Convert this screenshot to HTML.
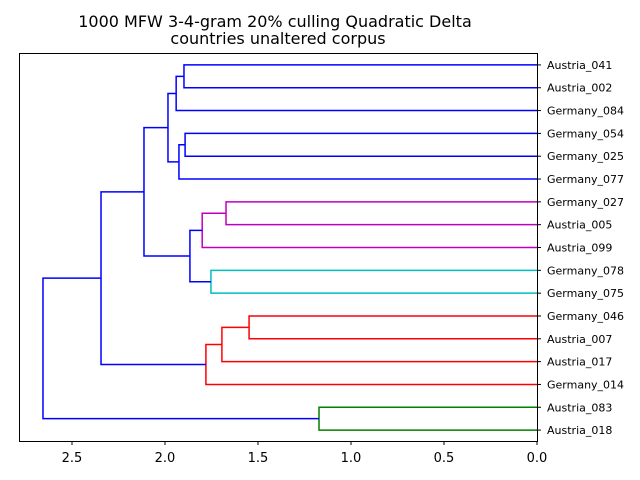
<!DOCTYPE html>
<html><head><meta charset="utf-8"><style>
body{margin:0;background:#fff;}
svg{display:block;font-family:"DejaVu Sans","Liberation Sans",sans-serif;}
</style></head><body>
<svg id="chart" width="640" height="480">
<text x="275" y="27" font-size="16" text-anchor="middle">1000 MFW 3-4-gram 20% culling Quadratic Delta</text>
<text x="278" y="44" font-size="16" text-anchor="middle">countries unaltered corpus</text>
<g id="links"></g>
<rect x="19.5" y="53.5" width="518" height="388" fill="none" stroke="#000" stroke-width="1"/>
<g id="xticks"></g>
<g id="leaves"></g>
</svg>
<script>
const leafLabels=["Austria_041","Austria_002","Germany_084","Germany_054","Germany_025","Germany_077","Germany_027","Austria_005","Austria_099","Germany_078","Germany_075","Germany_046","Austria_007","Austria_017","Germany_014","Austria_083","Austria_018"];
const mergeLeft=[0,17,3,19,18,6,22,9,23,21,11,27,28,26,15,30];
const mergeRight=[1,2,4,5,20,7,8,10,24,25,12,13,14,29,16,31];
const mergeHeights=[1.898,1.94,1.892,1.925,1.984,1.672,1.80,1.753,1.866,2.113,1.548,1.694,1.78,2.344,1.172,2.656];
const mergeColors=["#0000ff","#0000ff","#0000ff","#0000ff","#0000ff","#bf00bf","#bf00bf","#00bfbf","#0000ff","#0000ff","#ff0000","#ff0000","#ff0000","#0000ff","#008000","#0000ff"];
const xTicks=[2.5,2.0,1.5,1.0,0.5,0.0];

const NS="http://www.w3.org/2000/svg";
const X0=537,XS=186,LEFT=19.5,TOP=53.5,H=388;
const xs=v=>X0-v*XS;
const n=leafLabels.length;
const ys=i=>TOP+(10*i+5)/(10*n)*H;
const nodeY=[],nodeH=[];
leafLabels.forEach((l,i)=>{nodeY[i]=ys(i);nodeH[i]=0;});
const links=document.getElementById('links');
mergeHeights.forEach((h,k)=>{
  const a=mergeLeft[k],b=mergeRight[k];
  const p=document.createElementNS(NS,'path');
  p.setAttribute('d',`M${xs(nodeH[a])},${nodeY[a]}H${xs(h)}V${nodeY[b]}H${xs(nodeH[b])}`);
  p.setAttribute('fill','none');p.setAttribute('stroke',mergeColors[k]);p.setAttribute('stroke-width','1.5');
  
  
  links.appendChild(p);
  nodeY[n+k]=(nodeY[a]+nodeY[b])/2;nodeH[n+k]=h;
});
const lv=document.getElementById('leaves');
leafLabels.forEach((l,i)=>{
  const t=document.createElementNS(NS,'text');
  t.setAttribute('x',547);t.setAttribute('y',ys(i)+4);t.setAttribute('font-size','11');
  t.textContent=l;
  
  
  lv.appendChild(t);
  const tk=document.createElementNS(NS,'line');
  tk.setAttribute('x1',537.5);tk.setAttribute('x2',541);tk.setAttribute('y1',ys(i));tk.setAttribute('y2',ys(i));tk.setAttribute('stroke','#000');
  
  
  lv.appendChild(tk);
});
const xt=document.getElementById('xticks');
xTicks.forEach(v=>{
  const x=xs(v);
  const l=document.createElementNS(NS,'line');
  l.setAttribute('x1',x);l.setAttribute('x2',x);l.setAttribute('y1',441.5);l.setAttribute('y2',445);l.setAttribute('stroke','#000');
  
  
  xt.appendChild(l);
  const t=document.createElementNS(NS,'text');
  t.setAttribute('x',x);t.setAttribute('y',462);t.setAttribute('font-size','13');t.setAttribute('text-anchor','middle');
  t.textContent=v.toFixed(1);
  
  
  xt.appendChild(t);
});
</script>
</body></html>
